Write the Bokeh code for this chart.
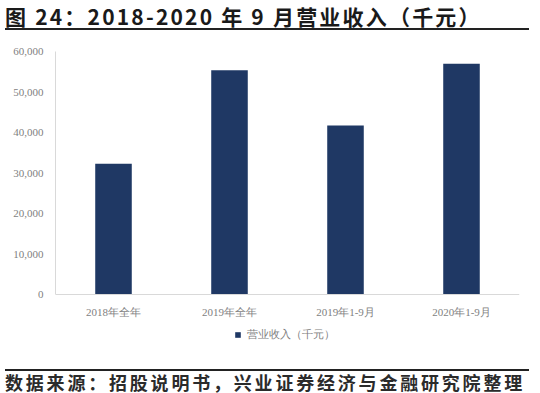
from bokeh.plotting import figure
from bokeh.models import (FactorRange, Range1d, NumeralTickFormatter, Legend,
                          LegendItem, FixedTicker, ColumnDataSource, Div)
from bokeh.layouts import column
from bokeh.embed import file_html
from bokeh.resources import INLINE

categories = ["2018年全年", "2019年全年", "2019年1-9月", "2020年1-9月"]
revenue = [32300, 55400, 41700, 57000]
series_name = "营业收入（千元）"
y_ticks = [0, 10000, 20000, 30000, 40000, 50000, 60000]
title_text = "图 24：2018-2020 年 9 月营业收入（千元）"
source_text = "数据来源：招股说明书，兴业证券经济与金融研究院整理"

W = 524
PLOT_H = 243      # pixels from 0 to 60,000
EXTRA_H = 48      # room under the baseline for category labels and legend
Y_MAX = 60000
Y_MIN = -Y_MAX * EXTRA_H / PLOT_H

title_div = Div(width=W, height=28, text=(
    '<div style="width:%dpx;height:25px;border-bottom:2px solid #222;'
    'font-family:\'Noto Sans CJK SC\';font-weight:bold;font-size:21px;line-height:22px;'
    'color:#1A1A1A;white-space:nowrap;letter-spacing:2.2px;">%s</div>' % (W, title_text)))

p = figure(frame_width=464, frame_height=PLOT_H + EXTRA_H, output_backend="svg", toolbar_location=None,
           x_range=FactorRange(*categories, range_padding=0),
           y_range=Range1d(Y_MIN, Y_MAX),
           min_border_left=55, min_border_right=5, min_border_top=13, min_border_bottom=22)
p.background_fill_color = "white"
p.border_fill_color = "white"
p.outline_line_color = None
p.grid.grid_line_color = None

src = ColumnDataSource(dict(cat=categories, val=revenue))
r = p.vbar(x="cat", top="val", width=0.315, source=src, fill_color="#1F3864", line_color=None)

p.yaxis.ticker = FixedTicker(ticks=y_ticks)
p.yaxis.formatter = NumeralTickFormatter(format="0,0")
p.yaxis.bounds = (0, Y_MAX)
p.xaxis.fixed_location = 0
for ax in (p.xaxis[0], p.yaxis[0]):
    ax.axis_line_color = "#D9D9D9"
    ax.major_tick_line_color = None
    ax.minor_tick_line_color = None
    ax.major_label_text_color = "#7F7F7F"
    ax.major_label_text_font = "Liberation Serif"
    ax.major_label_text_font_size = "11px"
p.yaxis.major_label_standoff = 6
p.xaxis.major_label_standoff = 5

legend = Legend(items=[LegendItem(label=series_name, renderers=[r])],
                location=(179, 0), orientation="horizontal",
                glyph_width=7, glyph_height=7, label_text_font_size="11px",
                label_text_color="#7F7F7F", label_text_font="Liberation Serif",
                border_line_color=None, background_fill_alpha=0, padding=0, margin=0,
                label_standoff=6, label_height=12, spacing=0)
p.add_layout(legend)

source_div = Div(width=W, height=25, text=(
    '<div style="width:%dpx;height:22px;border-top:2px solid #222;padding-top:1px;'
    'font-family:\'Noto Sans CJK SC\';font-weight:bold;font-size:18px;line-height:20px;'
    'color:#2B2B2B;white-space:nowrap;letter-spacing:2.8px;">%s</div>' % (W, source_text)))

layout = column(title_div, p, source_div, spacing=0)
open("out.html", "w").write(file_html(layout, INLINE))
